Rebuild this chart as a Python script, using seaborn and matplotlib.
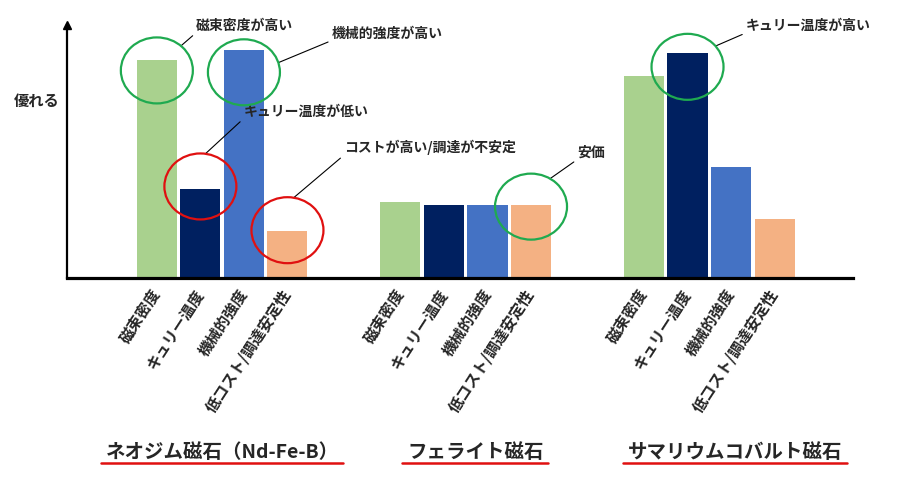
import matplotlib
matplotlib.use("Agg")
import matplotlib.pyplot as plt
import matplotlib.transforms as mtransforms
from matplotlib.lines import Line2D
from matplotlib.patches import Ellipse
import numpy as np
import pandas as pd
import seaborn as sns

# data (relative "how good" score, 0..10)
groups = ["ネオジム磁石（Nd-Fe-B）", "フェライト磁石", "サマリウムコバルト磁石"]
metrics = ["磁束密度", "キュリー温度", "機械的強度", "低コスト/調達安定性"]
neo_vals = [8.6, 3.5, 9.0, 1.85]
ferrite_vals = [3.0, 2.9, 2.9, 2.9]
smco_vals = [8.0, 8.9, 4.4, 2.35]
bar_colors = ["#A9D18E", "#002060", "#4472C4", "#F4B183"]

# callouts: (group, metric, text, circle colour, circle shift px (+ = up), leader angle, text offset px)
notes = [
    (0, 0, "磁束密度が高い", "#1FAA50", -10, 48, (15, 20)),
    (0, 2, "機械的強度が高い", "#1FAA50", -22, 17, (53, 29)),
    (0, 1, "キュリー温度が低い", "#E01010", 3, 82, (38, 42)),
    (0, 3, "コストが高い/調達が不安定", "#E01010", 1, 80, (50, 50)),
    (1, 3, "安価", "#1FAA50", -2, 58, (27, 26)),
    (2, 1, "キュリー温度が高い", "#1FAA50", -14, 39, (30, 20)),
]

df = pd.DataFrame({
    "group": np.repeat(groups, len(metrics)),
    "metric": metrics * len(groups),
    "value": neo_vals + ferrite_vals + smco_vals,
})

sns.set_theme(style="white")
plt.rcParams["font.family"] = ["Noto Sans CJK JP", "DejaVu Sans"]

W, H = 901, 493
fig = plt.figure(figsize=(W / 100, H / 100), dpi=100)
ax = fig.add_axes([67 / W, 215 / H, 786 / W, 253 / H])

sns.barplot(data=df, x="group", y="value", hue="metric", order=groups,
            hue_order=metrics, palette=bar_colors, width=0.715, gap=0.08,
            linewidth=0, saturation=1, legend=False, ax=ax)

ax.set_xlim(-0.637, 2.59)
ax.set_ylim(0, 10)
px_x = 786 / (2.59 + 0.637)
px_y = 253 / 10

# axes look: thick baseline, left axis with arrow head
for s in ["top", "right"]:
    ax.spines[s].set_visible(False)
ax.spines["bottom"].set_linewidth(2.3)
ax.spines["bottom"].set_color("black")
ax.spines["left"].set_linewidth(1.6)
ax.spines["left"].set_color("black")
ax.plot([0], [1], marker="^", color="black", markersize=6,
        transform=ax.transAxes, clip_on=False)
ax.set_yticks([])
ax.set_ylabel("優れる", rotation=0, fontsize=11, weight="bold",
              ha="center", va="center")
ax.yaxis.set_label_coords(-0.038, 0.70)

# one tick per bar
bars = sorted(ax.patches, key=lambda p: p.get_x())
centers = [p.get_x() + p.get_width() / 2 for p in bars]
ax.set_xticks(centers)
ax.set_xticklabels(metrics * len(groups), rotation=57, ha="right",
                   va="center", rotation_mode="anchor", fontsize=11,
                   weight="bold")
ax.tick_params(axis="x", length=0, pad=9)
ax.set_xlabel("")

# callout circles and leader lines
for g, m, txt, col, dy, ang, off in notes:
    p = bars[g * len(metrics) + m]
    cx = p.get_x() + p.get_width() / 2
    cy = p.get_height() + dy / px_y
    a, b = 72 / px_x, 66 / px_y
    ax.add_patch(Ellipse((cx, cy), a, b, fill=False, edgecolor=col,
                         linewidth=1.6, clip_on=False, zorder=5))
    t = np.deg2rad(ang)
    sx, sy = cx + a / 2 * np.cos(t), cy + b / 2 * np.sin(t)
    ax.annotate(txt, xy=(sx, sy), xytext=off, textcoords="offset pixels",
                ha="left", va="center", fontsize=10, weight="bold",
                annotation_clip=False,
                arrowprops=dict(arrowstyle="-", color="black", lw=0.8,
                                relpos=(0, 0), shrinkA=0, shrinkB=0))

# group titles with red underline
trans = mtransforms.blended_transform_factory(ax.transData, ax.transAxes)
title_shift = [0, 10, 26]
titles = []
for i, name in enumerate(groups):
    titles.append(ax.text(i + title_shift[i] / px_x, -0.688, name,
                          transform=trans, ha="center", va="center",
                          fontsize=14, weight="bold"))

fig.canvas.draw()
for t in titles:
    bb = t.get_window_extent()
    fig.add_artist(Line2D([bb.x0 - 5, bb.x1 + 4], [30, 30], color="#E01010",
                          linewidth=1.8,
                          transform=mtransforms.IdentityTransform()))

fig.savefig("out.png", dpi=100, facecolor="white")
